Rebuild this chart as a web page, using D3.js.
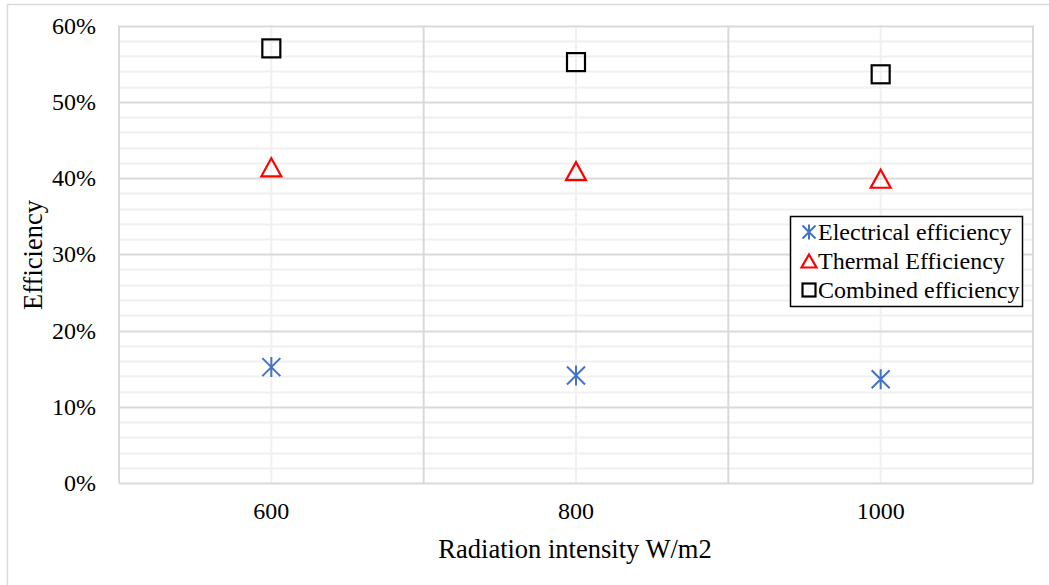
<!DOCTYPE html>
<html><head><meta charset="utf-8">
<script src="https://cdn.jsdelivr.net/npm/d3@7"></script>
<style>body{margin:0;background:#fff}svg{display:block}</style>
</head><body><svg id="c" width="1049" height="585"></svg>
<script>
const categories = ["600","800","1000"];
const electrical = [0.152, 0.141, 0.136];
const thermal = [0.414, 0.409, 0.399];
const combined = [0.570, 0.552, 0.536];
const yTicks = [0,0.1,0.2,0.3,0.4,0.5,0.6];
const seriesNames = ["Electrical efficiency","Thermal Efficiency","Combined efficiency"];

const FONT = "'Liberation Serif'";
const svg = d3.select("#c");
const L=119, R=1033, T=25.5, B=483;
const x = d3.scaleBand().domain(categories).range([L,R]).padding(0);
const y = d3.scaleLinear().domain([0,0.6]).range([B,T]);

svg.append("rect").attr("x",7.5).attr("y",4.5).attr("width",1100).attr("height",700).attr("fill","none").attr("stroke","#d9d9d9").attr("stroke-width",1.5);

const minor = d3.range(0,0.6001,0.02).filter(v=>Math.round(v*100)%10!==0);
svg.append("g").selectAll("line").data(minor).join("line")
  .attr("x1",L).attr("x2",R).attr("y1",d=>Math.round(y(d))+0.5).attr("y2",d=>Math.round(y(d))+0.5)
  .attr("stroke","#f0f0f0").attr("stroke-width",2);
svg.append("g").selectAll("line").data(categories).join("line")
  .attr("x1",d=>x(d)+x.bandwidth()/2).attr("x2",d=>x(d)+x.bandwidth()/2).attr("y1",T).attr("y2",B)
  .attr("stroke","#f0f0f0").attr("stroke-width",2);
svg.append("g").selectAll("line").data(yTicks).join("line")
  .attr("x1",L).attr("x2",R).attr("y1",d=>Math.round(y(d))+0.5).attr("y2",d=>Math.round(y(d))+0.5)
  .attr("stroke","#d9d9d9").attr("stroke-width",2);
const bounds = categories.map(c=>x(c)).concat([R]);
svg.append("g").selectAll("line").data(bounds).join("line")
  .attr("x1",d=>d).attr("x2",d=>d).attr("y1",T).attr("y2",B)
  .attr("stroke","#d9d9d9").attr("stroke-width",2);

const yAxis = d3.axisLeft(y).tickValues(yTicks).tickFormat(d3.format(".0%")).tickSize(0).tickPadding(23);
const gy = svg.append("g").attr("transform",`translate(${L},0)`).call(yAxis);
gy.attr("font-family",FONT).attr("font-size",24);
gy.select(".domain").remove();
gy.selectAll("text").attr("fill","#000").attr("dy","0.32em");

const xAxis = d3.axisBottom(x).tickSize(0).tickPadding(19);
const gx = svg.append("g").attr("transform",`translate(0,${B})`).call(xAxis);
gx.attr("font-family",FONT).attr("font-size",24);
gx.select(".domain").remove();
gx.selectAll("text").attr("fill","#000");

svg.append("text").attr("x",(L+R)/2 - 1).attr("y",558).attr("text-anchor","middle").attr("font-family",FONT).attr("font-size",26.5).attr("fill","#000").text("Radiation intensity W/m2");
svg.append("text").attr("transform","translate(42,255) rotate(-90)").attr("text-anchor","middle").attr("font-family",FONT).attr("font-size",26.5).attr("fill","#000").text("Efficiency");

const cx = d => x(d)+x.bandwidth()/2;
function star(g,px,py,s,color){
  const h=s/2;
  const p = `M${px-h},${py-h}L${px+h},${py+h}M${px-h},${py+h}L${px+h},${py-h}M${px},${py-h-1}L${px},${py+h+1}`;
  g.append("path").attr("d",p).attr("stroke",color).attr("stroke-width",2).attr("fill","none");
}
function tri(g,px,py,s,color){
  const h=s/2;
  g.append("path").attr("d",`M${px},${py-h}L${px+h+1},${py+h}L${px-h-1},${py+h}Z`).attr("stroke",color).attr("stroke-width",2.2).attr("fill","none");
}
function sq(g,px,py,s,color){
  g.append("rect").attr("x",px-s/2).attr("y",py-s/2).attr("width",s).attr("height",s).attr("stroke",color).attr("stroke-width",2.2).attr("fill","none");
}
const gm = svg.append("g");
categories.forEach((c,i)=>{
  star(gm,cx(c),y(electrical[i]),18,"#4472c4");
  tri(gm,cx(c),y(thermal[i]),18,"#ff0000");
  sq(gm,cx(c),y(combined[i]),18,"#000000");
});

const lg = svg.append("g");
lg.append("rect").attr("x",790.5).attr("y",216.5).attr("width",232).attr("height",90).attr("fill","#fff").attr("stroke","#000").attr("stroke-width",1.5);
const ly=[232,261,290];
star(lg,809,ly[0],13,"#4472c4");
tri(lg,809,ly[1],13,"#ff0000");
sq(lg,809,ly[2],13,"#000");
seriesNames.forEach((n,i)=>{
  lg.append("text").attr("x",818).attr("y",ly[i]).attr("dy","0.33em").attr("font-family",FONT).attr("font-size",24).attr("fill","#000").text(n);
});
</script></body></html>
